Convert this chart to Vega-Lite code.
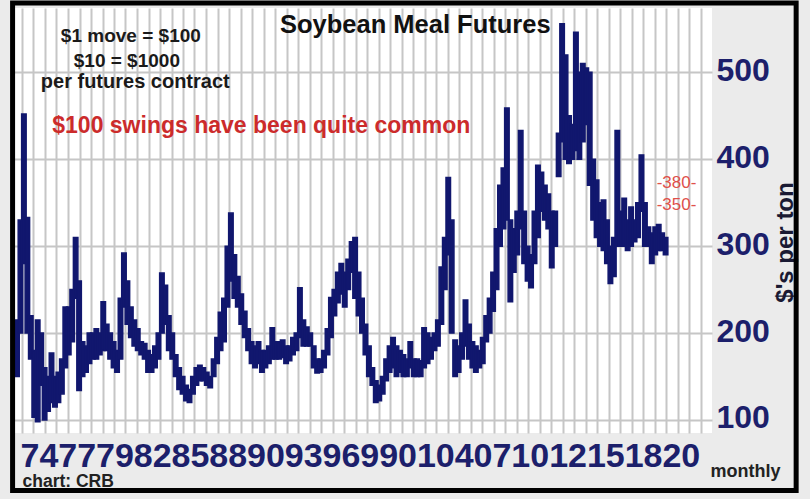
{
  "$schema": "https://vega.github.io/schema/vega-lite/v6.json",
  "width": 700,
  "height": 425,
  "autosize": {"type": "none"},
  "padding": {"left": 12, "top": 8, "right": 98, "bottom": 66},
  "background": "#ebebeb",
  "config": {"view": {"fill": "white", "stroke": null}, "font": "Liberation Sans"},
  "datasets": {
    "meal": [
      {"t":1973.0,"l":150,"h":215},{"t":1973.25,"l":200,"h":330},{"t":1973.5,"l":280,"h":452},{"t":1973.75,"l":200,"h":333},
      {"t":1974.0,"l":170,"h":220},{"t":1974.25,"l":103,"h":180},{"t":1974.5,"l":98,"h":215},{"t":1974.75,"l":140,"h":200},
      {"t":1975.0,"l":100,"h":160},{"t":1975.25,"l":110,"h":150},{"t":1975.5,"l":120,"h":177},{"t":1975.75,"l":115,"h":150},
      {"t":1976.0,"l":120,"h":155},{"t":1976.25,"l":130,"h":170},{"t":1976.5,"l":160,"h":230},{"t":1976.75,"l":175,"h":230},
      {"t":1977.0,"l":190,"h":250},{"t":1977.25,"l":240,"h":310},{"t":1977.5,"l":134,"h":260},{"t":1977.75,"l":150,"h":190},
      {"t":1978.0,"l":155,"h":185},{"t":1978.25,"l":165,"h":200},{"t":1978.5,"l":170,"h":200},{"t":1978.75,"l":170,"h":205},
      {"t":1979.0,"l":175,"h":200},{"t":1979.25,"l":180,"h":236},{"t":1979.5,"l":180,"h":210},{"t":1979.75,"l":170,"h":200},
      {"t":1980.0,"l":160,"h":190},{"t":1980.25,"l":155,"h":180},{"t":1980.5,"l":170,"h":240},{"t":1980.75,"l":230,"h":292},
      {"t":1981.0,"l":210,"h":260},{"t":1981.25,"l":195,"h":230},{"t":1981.5,"l":185,"h":215},{"t":1981.75,"l":180,"h":205},
      {"t":1982.0,"l":175,"h":190},{"t":1982.25,"l":170,"h":188},{"t":1982.5,"l":155,"h":180},{"t":1982.75,"l":155,"h":175},
      {"t":1983.0,"l":160,"h":185},{"t":1983.25,"l":170,"h":200},{"t":1983.5,"l":200,"h":269},{"t":1983.75,"l":210,"h":255},
      {"t":1984.0,"l":180,"h":220},{"t":1984.25,"l":170,"h":200},{"t":1984.5,"l":150,"h":175},{"t":1984.75,"l":135,"h":160},
      {"t":1985.0,"l":130,"h":150},{"t":1985.25,"l":122,"h":140},{"t":1985.5,"l":120,"h":135},{"t":1985.75,"l":130,"h":150},
      {"t":1986.0,"l":140,"h":160},{"t":1986.25,"l":145,"h":163},{"t":1986.5,"l":145,"h":160},{"t":1986.75,"l":140,"h":155},
      {"t":1987.0,"l":137,"h":150},{"t":1987.25,"l":150,"h":170},{"t":1987.5,"l":165,"h":195},{"t":1987.75,"l":180,"h":224},
      {"t":1988.0,"l":190,"h":240},{"t":1988.25,"l":230,"h":300},{"t":1988.5,"l":260,"h":338},{"t":1988.75,"l":240,"h":290},
      {"t":1989.0,"l":230,"h":265},{"t":1989.25,"l":210,"h":245},{"t":1989.5,"l":195,"h":225},{"t":1989.75,"l":180,"h":205},
      {"t":1990.0,"l":165,"h":190},{"t":1990.25,"l":160,"h":185},{"t":1990.5,"l":165,"h":190},{"t":1990.75,"l":155,"h":180},
      {"t":1991.0,"l":160,"h":180},{"t":1991.25,"l":165,"h":185},{"t":1991.5,"l":170,"h":206},{"t":1991.75,"l":170,"h":190},
      {"t":1992.0,"l":170,"h":190},{"t":1992.25,"l":172,"h":192},{"t":1992.5,"l":165,"h":185},{"t":1992.75,"l":168,"h":185},
      {"t":1993.0,"l":175,"h":195},{"t":1993.25,"l":180,"h":200},{"t":1993.5,"l":195,"h":252},{"t":1993.75,"l":185,"h":215},
      {"t":1994.0,"l":185,"h":207},{"t":1994.25,"l":185,"h":200},{"t":1994.5,"l":160,"h":185},{"t":1994.75,"l":154,"h":170},
      {"t":1995.0,"l":155,"h":170},{"t":1995.25,"l":160,"h":180},{"t":1995.5,"l":175,"h":205},{"t":1995.75,"l":195,"h":241},
      {"t":1996.0,"l":220,"h":250},{"t":1996.25,"l":235,"h":270},{"t":1996.5,"l":245,"h":280},{"t":1996.75,"l":230,"h":270},
      {"t":1997.0,"l":250,"h":285},{"t":1997.25,"l":270,"h":305},{"t":1997.5,"l":240,"h":310},{"t":1997.75,"l":220,"h":270},
      {"t":1998.0,"l":200,"h":240},{"t":1998.25,"l":175,"h":210},{"t":1998.5,"l":150,"h":185},{"t":1998.75,"l":140,"h":160},
      {"t":1999.0,"l":120,"h":145},{"t":1999.25,"l":122,"h":140},{"t":1999.5,"l":130,"h":150},{"t":1999.75,"l":145,"h":170},
      {"t":2000.0,"l":155,"h":185},{"t":2000.25,"l":160,"h":195},{"t":2000.5,"l":150,"h":185},{"t":2000.75,"l":155,"h":180},
      {"t":2001.0,"l":150,"h":175},{"t":2001.25,"l":150,"h":170},{"t":2001.5,"l":160,"h":190},{"t":2001.75,"l":150,"h":170},
      {"t":2002.0,"l":150,"h":170},{"t":2002.25,"l":150,"h":168},{"t":2002.5,"l":160,"h":206},{"t":2002.75,"l":165,"h":200},
      {"t":2003.0,"l":170,"h":195},{"t":2003.25,"l":180,"h":200},{"t":2003.5,"l":185,"h":215},{"t":2003.75,"l":210,"h":276},
      {"t":2004.0,"l":250,"h":310},{"t":2004.25,"l":290,"h":379},{"t":2004.5,"l":200,"h":330},{"t":2004.75,"l":150,"h":192},
      {"t":2005.0,"l":155,"h":185},{"t":2005.25,"l":170,"h":200},{"t":2005.5,"l":185,"h":238},{"t":2005.75,"l":170,"h":210},
      {"t":2006.0,"l":160,"h":190},{"t":2006.25,"l":155,"h":185},{"t":2006.5,"l":160,"h":180},{"t":2006.75,"l":165,"h":195},
      {"t":2007.0,"l":190,"h":220},{"t":2007.25,"l":200,"h":240},{"t":2007.5,"l":225,"h":270},{"t":2007.75,"l":250,"h":320},
      {"t":2008.0,"l":300,"h":370},{"t":2008.25,"l":320,"h":390},{"t":2008.5,"l":330,"h":459},{"t":2008.75,"l":236,"h":330},
      {"t":2009.0,"l":270,"h":320},{"t":2009.25,"l":290,"h":340},{"t":2009.5,"l":320,"h":433},{"t":2009.75,"l":280,"h":340},
      {"t":2010.0,"l":260,"h":300},{"t":2010.25,"l":252,"h":290},{"t":2010.5,"l":280,"h":340},{"t":2010.75,"l":310,"h":393},
      {"t":2011.0,"l":340,"h":385},{"t":2011.25,"l":330,"h":370},{"t":2011.5,"l":320,"h":360},{"t":2011.75,"l":275,"h":340},
      {"t":2012.0,"l":300,"h":340},{"t":2012.25,"l":380,"h":430},{"t":2012.5,"l":420,"h":556},{"t":2012.75,"l":400,"h":520},
      {"t":2013.0,"l":395,"h":450},{"t":2013.25,"l":400,"h":440},{"t":2013.5,"l":410,"h":546},{"t":2013.75,"l":400,"h":500},
      {"t":2014.0,"l":420,"h":510},{"t":2014.25,"l":440,"h":505},{"t":2014.5,"l":370,"h":500},{"t":2014.75,"l":330,"h":400},
      {"t":2015.0,"l":310,"h":376},{"t":2015.25,"l":300,"h":350},{"t":2015.5,"l":295,"h":353},{"t":2015.75,"l":280,"h":330},
      {"t":2016.0,"l":257,"h":300},{"t":2016.25,"l":265,"h":310},{"t":2016.5,"l":300,"h":433},{"t":2016.75,"l":300,"h":340},
      {"t":2017.0,"l":300,"h":355},{"t":2017.25,"l":295,"h":330},{"t":2017.5,"l":300,"h":345},{"t":2017.75,"l":305,"h":330},
      {"t":2018.0,"l":310,"h":350},{"t":2018.25,"l":340,"h":405},{"t":2018.5,"l":300,"h":350},{"t":2018.75,"l":300,"h":322},
      {"t":2019.0,"l":280,"h":315},{"t":2019.25,"l":290,"h":322},{"t":2019.5,"l":295,"h":325},{"t":2019.75,"l":295,"h":315},
      {"t":2020.0,"l":290,"h":310}
    ]
  },
  "resolve": {"axis": {"x": "independent", "y": "independent"}},
  "layer": [
    {
      "data": {"name": "meal"},
      "mark": {"type": "bar", "width": 4.5, "color": "#11176e", "stroke": "#11176e", "strokeWidth": 1.5},
      "encoding": {
        "x": {
          "field": "t", "type": "quantitative",
          "scale": {"domain": [1973, 2023], "nice": false, "zero": false},
          "axis": {
            "values": [1973.36,1974.19,1975.03,1975.86,1976.69,1977.53,1978.36,1979.2,1980.03,1980.86,1981.7,1982.53,1983.36,1984.2,1985.03,1985.86,1986.7,1987.53,1988.36,1989.2,1990.03,1990.87,1991.7,1992.53,1993.37,1994.2,1995.03,1995.87,1996.7,1997.53,1998.37,1999.2,2000.04,2000.87,2001.7,2002.54,2003.37,2004.2,2005.04,2005.87,2006.7,2007.54,2008.37,2009.2,2010.04,2010.87,2011.71,2012.54,2013.37,2014.21,2015.04,2015.87,2016.71,2017.54,2018.37,2019.21,2020.04,2020.87,2021.71,2022.54],
            "grid": true, "gridColor": "#c6c6c6", "gridWidth": 2,
            "labels": false, "ticks": false, "domain": false, "title": null
          }
        },
        "y": {
          "field": "l", "type": "quantitative",
          "scale": {"domain": [85, 574], "nice": false, "zero": false},
          "axis": {
            "orient": "right", "values": [100, 200, 300, 400, 500],
            "grid": true, "gridColor": "#c6c6c6", "gridWidth": 2,
            "domain": false, "ticks": false,
            "labelFontSize": 32, "labelFont": "Liberation Sans", "labelFontWeight": "bold",
            "labelColor": "#1c1f6b", "labelPadding": 4, "labelOffset": -2,
            "title": "$'s per ton", "titleFont": "Liberation Sans", "titleFontSize": 24,
            "titleFontWeight": "bold", "titleColor": "#1a1a33", "titleAngle": 270,
            "titleX": 73, "titleY": 234, "titleAlign": "center", "titleBaseline": "middle"
          }
        },
        "y2": {"field": "h"}
      }
    },
    {
      "data": {"values": [{}]},
      "mark": {"type": "text", "text": "Soybean Meal Futures", "fontSize": 25.5, "fontWeight": "bold", "color": "#111111", "align": "center", "baseline": "alphabetic"},
      "encoding": {"x": {"datum": 2001.86, "type": "quantitative", "axis": null}, "y": {"datum": 545.2, "type": "quantitative", "axis": null}}
    },
    {
      "data": {"values": [{}]},
      "mark": {"type": "text", "text": "$1 move = $100", "fontSize": 19, "fontWeight": "bold", "color": "#1a1a1a", "align": "center", "baseline": "alphabetic"},
      "encoding": {"x": {"datum": 1981.25, "type": "quantitative", "axis": null}, "y": {"datum": 534.9, "type": "quantitative", "axis": null}}
    },
    {
      "data": {"values": [{}]},
      "mark": {"type": "text", "text": "$10 = $1000", "fontSize": 19, "fontWeight": "bold", "color": "#1a1a1a", "align": "center", "baseline": "alphabetic"},
      "encoding": {"x": {"datum": 1980.96, "type": "quantitative", "axis": null}, "y": {"datum": 506.1, "type": "quantitative", "axis": null}}
    },
    {
      "data": {"values": [{}]},
      "mark": {"type": "text", "text": "per futures contract", "fontSize": 20, "fontWeight": "bold", "color": "#1a1a1a", "align": "center", "baseline": "alphabetic"},
      "encoding": {"x": {"datum": 1981.57, "type": "quantitative", "axis": null}, "y": {"datum": 481.95, "type": "quantitative", "axis": null}}
    },
    {
      "data": {"values": [{}]},
      "mark": {"type": "text", "text": "$100 swings have been quite common", "fontSize": 23, "fontWeight": "bold", "color": "#cc2b2b", "align": "center", "baseline": "alphabetic"},
      "encoding": {"x": {"datum": 1990.7, "type": "quantitative", "axis": null}, "y": {"datum": 430.2, "type": "quantitative", "axis": null}}
    },
    {
      "data": {"values": [{}]},
      "mark": {"type": "text", "text": "-380-", "fontSize": 17, "color": "#e0504a", "align": "center", "baseline": "alphabetic"},
      "encoding": {"x": {"datum": 2020.79, "type": "quantitative", "axis": null}, "y": {"datum": 366.9, "type": "quantitative", "axis": null}}
    },
    {
      "data": {"values": [{}]},
      "mark": {"type": "text", "text": "-350-", "fontSize": 17, "color": "#e0504a", "align": "center", "baseline": "alphabetic"},
      "encoding": {"x": {"datum": 2020.79, "type": "quantitative", "axis": null}, "y": {"datum": 341.6, "type": "quantitative", "axis": null}}
    },
    {
      "data": {"values": [{}]},
      "mark": {"type": "text", "text": "monthly", "fontSize": 18, "fontWeight": "bold", "color": "#222222", "align": "center", "baseline": "alphabetic"},
      "encoding": {"x": {"datum": 2025.79, "type": "quantitative", "axis": null}, "y": {"datum": 34.4, "type": "quantitative", "axis": null}}
    },
    {
      "data": {"values": [{}]},
      "mark": {"type": "text", "text": "chart: CRB", "fontSize": 17.5, "fontWeight": "bold", "color": "#222222", "align": "center", "baseline": "alphabetic"},
      "encoding": {
        "x": {
          "datum": 1976.71, "type": "quantitative",
          "axis": {
            "orient": "bottom",
            "values": [1974.59,1977.326,1980.062,1982.798,1985.534,1988.27,1991.006,1993.742,1996.478,1999.214,2001.95,2004.686,2007.422,2010.158,2012.894,2015.63,2018.366,2021.102],
            "labelExpr": "['74','77','79','82','85','88','90','93','96','99','01','04','07','10','12','15','18','20'][round((datum.value-1974.59)/2.736)]",
            "labelFont": "Liberation Sans", "labelFontSize": 34, "labelFontWeight": "bold", "labelColor": "#1c1f6b",
            "labelBaseline": "alphabetic", "labelPadding": 33, "labelOverlap": false, "labelBound": false, "labelFlush": false,
            "grid": false, "ticks": false, "domain": false, "title": null
          }
        },
        "y": {"datum": 22.5, "type": "quantitative", "axis": null}
      }
    },
    {
      "data": {"values": [{}]},
      "mark": {"type": "rect", "fill": "white", "fillOpacity": 0, "stroke": "#000000", "strokeWidth": 5, "clip": false},
      "encoding": {
        "x": {"datum": 1972.68, "type": "quantitative", "axis": null}, "x2": {"datum": 2029.46},
        "y": {"datum": 579.75, "type": "quantitative", "axis": null}, "y2": {"datum": 18.8}
      }
    }
  ]
}
